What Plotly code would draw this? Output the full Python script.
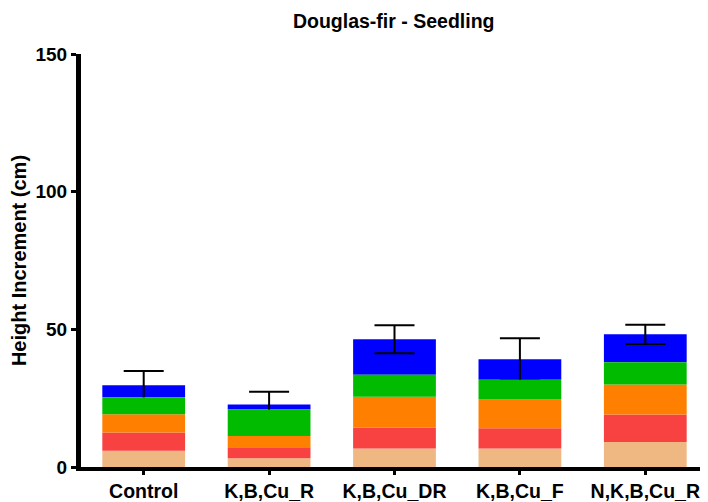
import numpy as np
import plotly.graph_objects as go

categories = ["Control", "K,B,Cu_R", "K,B,Cu_DR", "K,B,Cu_F", "N,K,B,Cu_R"]
seg1 = [5.9, 3.2, 6.7, 6.7, 9.1]
seg2 = [6.6, 4.0, 7.6, 7.4, 10.0]
seg3 = [6.7, 4.1, 11.2, 10.4, 10.9]
seg4 = [6.1, 9.6, 8.0, 7.2, 8.0]
seg5 = [4.4, 1.8, 12.9, 7.4, 10.2]
errors = [5.2, 4.6, 5.1, 7.7, 3.5]
segment_names = ["Segment 1", "Segment 2", "Segment 3", "Segment 4", "Segment 5"]
colors = ["#EFB882", "#F84141", "#FF8000", "#00BB00", "#0000FF"]
y_ticks = [0, 50, 100, 150]

segs = np.array([seg1, seg2, seg3, seg4, seg5])
bases = np.vstack([np.zeros(len(categories)), np.cumsum(segs, axis=0)[:-1]])

font = dict(family="Liberation Sans, Arial, sans-serif", color="black")
fig = go.Figure()

# top segment drawn first so lower segments cover the lower half of the error bar
order = [4, 0, 1, 2, 3]
for i in order:
    kw = {}
    if i == 4:
        kw["error_y"] = dict(type="data", array=errors, visible=True,
                             color="black", thickness=2, width=20)
    fig.add_trace(go.Bar(
        x=categories, y=segs[i], base=bases[i], name=segment_names[i],
        marker=dict(color=colors[i], line=dict(width=0)),
        width=0.66, showlegend=False, **kw))

fig.update_layout(
    barmode="overlay",
    width=700, height=494,
    margin=dict(l=73, r=0, t=46, b=32),
    paper_bgcolor="white", plot_bgcolor="white",
    title=dict(text="<b>Douglas-fir - Seedling</b>", x=0.551, xanchor="center",
               xref="container",
               y=0.974, yanchor="middle", font=dict(size=19.5, **font)),
    font=font,
)
fig.update_xaxes(
    range=[-0.5, 4.5], showline=True, linewidth=4, linecolor="black",
    ticks="outside", ticklen=4, tickwidth=3, tickcolor="black",
    tickfont=dict(size=19.5, weight="bold", **font), showgrid=False, zeroline=False,
)
fig.update_yaxes(
    range=[0, 150], tickvals=y_ticks, showline=True, linewidth=5, linecolor="black",
    ticks="outside", ticklen=5, tickwidth=3, tickcolor="black",
    tickfont=dict(size=19, weight="bold", **font), showgrid=False, zeroline=False,
    title=dict(text="<b>Height Increment (cm)</b>", font=dict(size=20, **font), standoff=7),
)
fig.write_html("out.html")
